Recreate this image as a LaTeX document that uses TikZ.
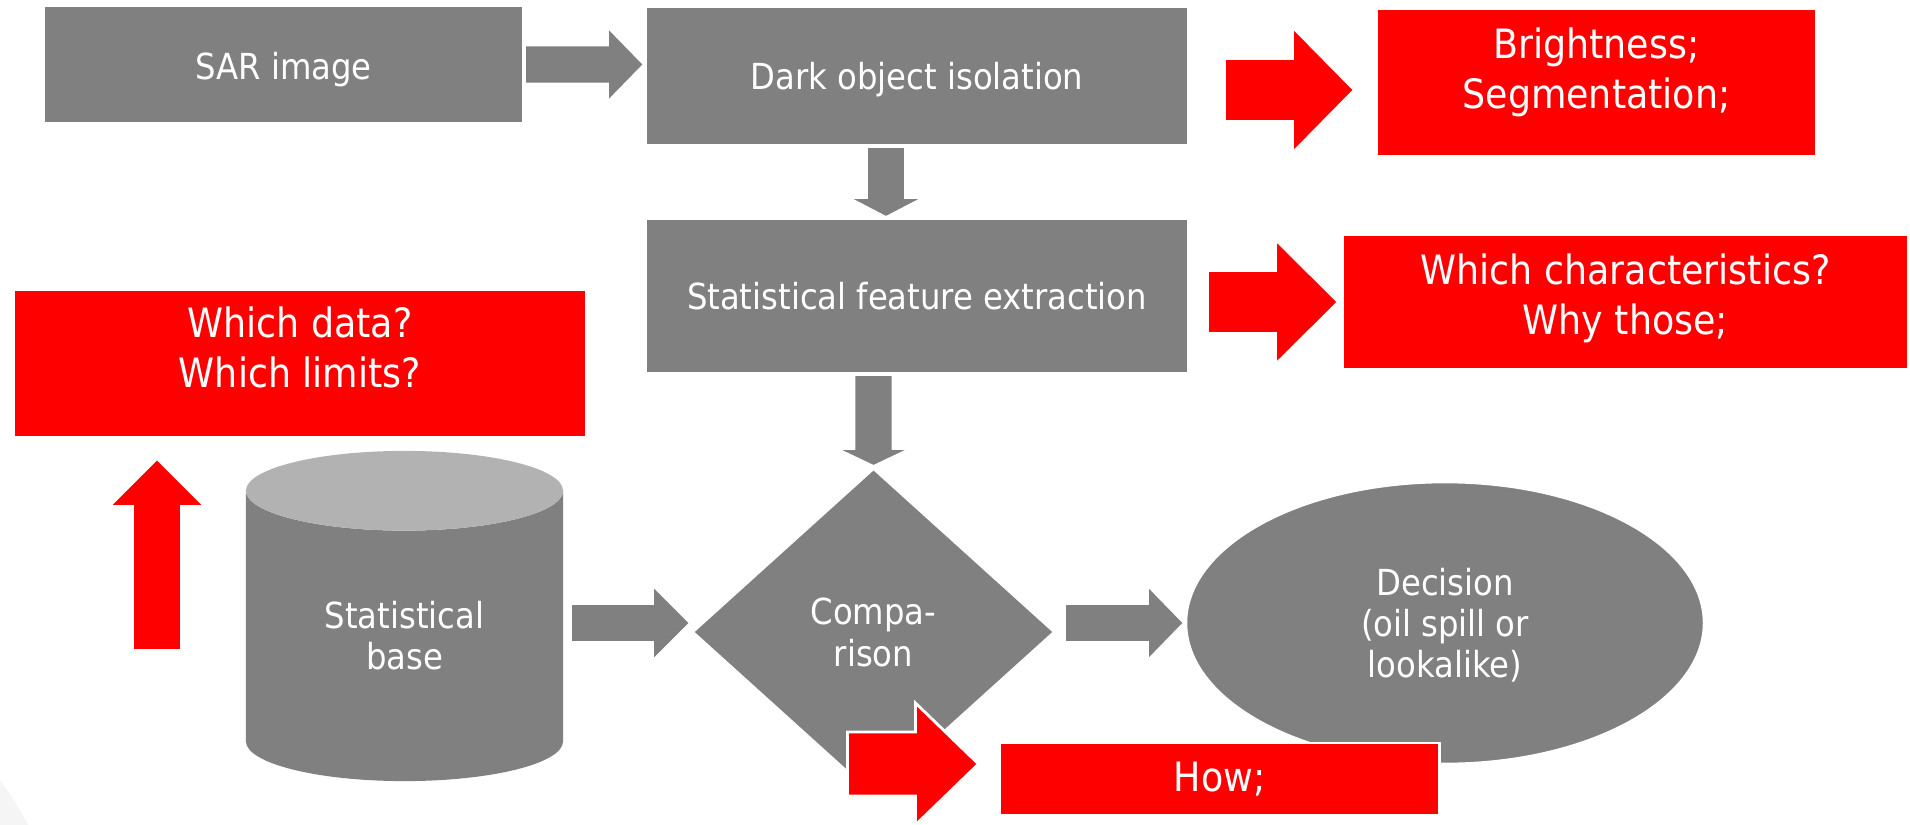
\documentclass[tikz,border=0pt]{standalone}
\usepackage{fontspec}
\setmainfont{DejaVu Sans Condensed}
\usetikzlibrary{calc, positioning, shapes.geometric}
\definecolor{boxgray}{RGB}{128,128,128}
\definecolor{cyltop}{RGB}{178,178,178}
\definecolor{alertred}{RGB}{255,0,0}
\definecolor{bgarc}{RGB}{245,245,245}
% text block, raised by #1 from the node centre
\newcommand{\btxt}[2][-4pt]{\raisebox{#1}[0pt][0pt]{\begin{tabular}{@{}c@{}}#2\end{tabular}}}

\tikzset{
  graybox/.style={rectangle, fill=boxgray, draw=white, line width=0.8pt, text=white,
    inner sep=0pt, font=\fontsize{10.2}{11.7}\selectfont},
  redbox/.style={graybox, fill=alertred, font=\fontsize{11.5}{14.2}\selectfont},
  % block arrow: shaft half width, head half width, head length
  fat/.style n args={3}{to path={
    ($(\tikztotarget)!#3*0.01cm!(\tikztostart)$) coordinate (fathead)
    ($(\tikztostart)!#1*0.01cm!90:(\tikztotarget)$)
    -- ($(fathead)!#1*0.01cm!90:(\tikztotarget)$)
    -- ($(fathead)!#2*0.01cm!90:(\tikztotarget)$)
    -- (\tikztotarget)
    -- ($(fathead)!#2*0.01cm!-90:(\tikztotarget)$)
    -- ($(fathead)!#1*0.01cm!-90:(\tikztotarget)$)
    -- ($(\tikztostart)!#1*0.01cm!-90:(\tikztotarget)$)
    -- cycle}},
  grayarrow/.style={fill=boxgray, draw=white, line width=0.8pt},
  redarrow/.style={fill=alertred, draw=white, line width=0.8pt},
}

\begin{document}
\begin{tikzpicture}[x=0.01cm, y=-0.01cm]
  \useasboundingbox (0,0) rectangle (1910,825);
  \begin{scope}
    \clip (0,0) rectangle (1910,825);
    \fill[bgarc] (-300,1000) circle (372);
  \end{scope}

  % Flow boxes
  \node[graybox, minimum width=4.79cm, minimum height=1.17cm] (sar) at (283.5,64.5) {\btxt[-4.3pt]{SAR image}};
  \node[graybox, minimum width=5.42cm, minimum height=1.38cm] (dark) at (917,76) {\btxt{Dark object isolation}};
  \node[graybox, minimum width=5.42cm, minimum height=1.54cm] (feat) at (917,296) {\btxt{Statistical feature extraction}};
  \node[graybox, fill=none, draw=none, cylinder, shape border rotate=90, aspect=0.5,
        cylinder uses custom fill, cylinder body fill=boxgray, cylinder end fill=cyltop,
        minimum width=3.17cm, minimum height=3.30cm, anchor=shape center] (cyl) at (404.5,616) {\btxt[-3.7pt]{Statistical\\base}};
  \node[graybox, diamond, minimum width=3.63cm, minimum height=3.28cm] (comp) at (873.5,632) {\btxt{Compa-\\rison}};
  \node[graybox, ellipse, minimum width=5.18cm, minimum height=2.82cm] (dec) at (1445,623) {\btxt{Decision\\(oil spill or\\lookalike)}};

  % Questions
  \node[redbox, minimum width=4.39cm, minimum height=1.47cm] (bright) at (1596.5,82.5) {\btxt[-0.4pt]{Brightness;\\Segmentation;}};
  \node[redbox, minimum width=5.65cm, minimum height=1.34cm] (chars) at (1625.5,302) {\btxt[-2.3pt]{Which characteristics?\\Why those;}};
  \node[redbox, minimum width=5.72cm, minimum height=1.47cm] (data) at (300,363.5) {\btxt[0pt]{Which data?\\Which limits?}};
  \node[redbox, minimum width=4.39cm, minimum height=0.72cm] (how) at (1219.5,779) {\btxt[-3.7pt]{How;}};

  % Arrow ends
  \coordinate (d1s) at ($(dark.south)+(-31,0)$);
  \coordinate (b1s) at ($(cyl.east |- dec.west)+(6,0)$);
  \coordinate (b2s) at ($(comp.east |- dec.west)+(8,0)$);
  \coordinate (r1s) at ($(bright.west)+(-151,7.5)$);
  \coordinate (r1e) at ($(bright.west)+(-21,7.5)$);
  \coordinate (r2s) at ($(chars.west)+(-134,0)$);
  \coordinate (r2e) at ($(chars.west)+(-3,0)$);
  \coordinate (r3s) at ($(data.south)+(-143,212)$);
  \coordinate (r3e) at ($(data.south)+(-143,20)$);
  \coordinate (r4s) at ($(how.west)+(-151,-15)$);
  \coordinate (r4e) at ($(how.west)+(-20,-15)$);

  % Gray flow arrows
  \filldraw[grayarrow] (sar.east) to[fat={19.5}{38}{37}] (sar.east -| dark.west);
  \filldraw[grayarrow] (d1s) to[fat={19.5}{38.5}{20}] (d1s |- feat.north);
  \filldraw[grayarrow] (comp.north |- feat.south) to[fat={19.5}{38}{18}] (comp.north);
  \filldraw[grayarrow] (b1s) to[fat={19.5}{38}{38}] (comp.west |- dec.west);
  \filldraw[grayarrow] (b2s) to[fat={19.5}{38}{37}] (dec.west);

  % Red arrows
  \filldraw[redarrow] (r1s) to[fat={31.5}{63}{62}] (r1e);
  \filldraw[redarrow] (r2s) to[fat={31.5}{62.5}{63}] (r2e);
  \filldraw[redarrow] (r3s) to[fat={24.5}{48}{48}] (r3e);
  \filldraw[redarrow] (r4s) to[fat={32}{61}{63}] (r4e);
\end{tikzpicture}
\end{document}
